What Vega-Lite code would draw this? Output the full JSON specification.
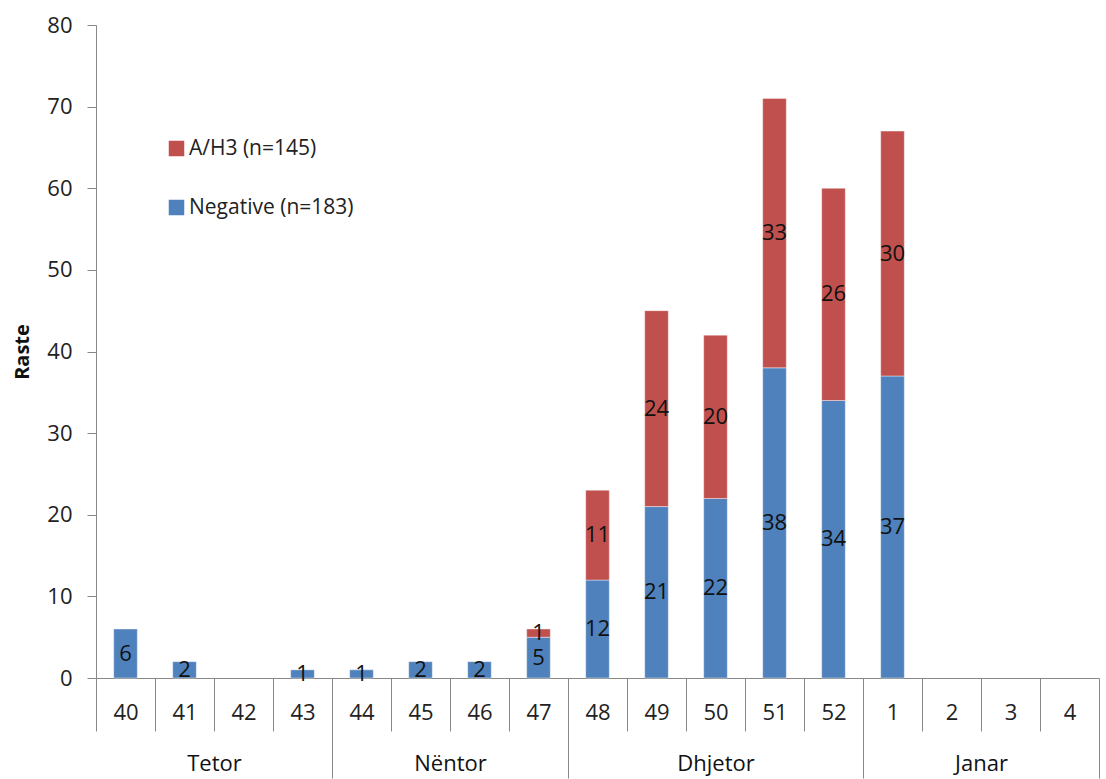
{
  "$schema": "https://vega.github.io/schema/vega-lite/v6.json",
  "padding": {"left": 12, "top": 14, "right": 0, "bottom": 0},
  "background": "white",
  "spacing": 0,
  "bounds": "flush",
  "config": {
    "font": "Open Sans",
    "view": {"stroke": null},
    "axis": {"labelFont": "Open Sans", "titleFont": "Open Sans", "labelColor": "#222", "titleColor": "#111", "domainColor": "#888", "tickColor": "#888", "grid": false},
    "axisX": {"labelAngle": 0, "labelFontSize": 22, "titleFontSize": 22, "titleFontWeight": "normal", "titleY": 85, "titleBaseline": "middle", "tickBand": "extent"}
  },
  "data": {
    "values": [
      {"week": 40, "month": "Tetor", "type": "Negative (n=183)", "count": 6},
      {"week": 41, "month": "Tetor", "type": "Negative (n=183)", "count": 2},
      {"week": 43, "month": "Tetor", "type": "Negative (n=183)", "count": 1},
      {"week": 44, "month": "Nëntor", "type": "Negative (n=183)", "count": 1},
      {"week": 45, "month": "Nëntor", "type": "Negative (n=183)", "count": 2},
      {"week": 46, "month": "Nëntor", "type": "Negative (n=183)", "count": 2},
      {"week": 47, "month": "Nëntor", "type": "Negative (n=183)", "count": 5},
      {"week": 47, "month": "Nëntor", "type": "A/H3 (n=145)", "count": 1},
      {"week": 48, "month": "Dhjetor", "type": "Negative (n=183)", "count": 12},
      {"week": 48, "month": "Dhjetor", "type": "A/H3 (n=145)", "count": 11},
      {"week": 49, "month": "Dhjetor", "type": "Negative (n=183)", "count": 21},
      {"week": 49, "month": "Dhjetor", "type": "A/H3 (n=145)", "count": 24},
      {"week": 50, "month": "Dhjetor", "type": "Negative (n=183)", "count": 22},
      {"week": 50, "month": "Dhjetor", "type": "A/H3 (n=145)", "count": 20},
      {"week": 51, "month": "Dhjetor", "type": "Negative (n=183)", "count": 38},
      {"week": 51, "month": "Dhjetor", "type": "A/H3 (n=145)", "count": 33},
      {"week": 52, "month": "Dhjetor", "type": "Negative (n=183)", "count": 34},
      {"week": 52, "month": "Dhjetor", "type": "A/H3 (n=145)", "count": 26},
      {"week": 1, "month": "Janar", "type": "Negative (n=183)", "count": 37},
      {"week": 1, "month": "Janar", "type": "A/H3 (n=145)", "count": 30}
    ]
  },
  "resolve": {"scale": {"x": "independent", "y": "shared"}},
  "hconcat": [
    {
      "width": 236, "height": 653,
      "transform": [{"filter": {"field": "month", "equal": "Tetor"}}],
      "layer": [
        {
          "mark": {"type": "bar", "width": {"band": 0.4}, "stroke": "#ffffff", "strokeOpacity": 0.4, "strokeWidth": 1},
          "encoding": {
            "x": {"field": "week", "type": "ordinal", "scale": {"domain": [40, 41, 42, 43], "paddingInner": 0, "paddingOuter": 0},
              "axis": {"title": "Tetor", "tickSize": {"condition": {"test": "datum.index == 1", "value": 100}, "value": 53}, "labelPadding": {"condition": {"test": "datum.index == 1", "value": -76}, "value": -29}}},
            "y": {"field": "count", "type": "quantitative", "stack": "zero", "scale": {"domain": [0, 80]},
              "axis": {"title": "Raste", "titleFontSize": 20, "titleFontWeight": "bold", "titlePadding": 14, "labelFontSize": 22, "tickSize": 9, "labelPadding": 15, "values": [0, 10, 20, 30, 40, 50, 60, 70, 80]}},
            "color": {"field": "type", "type": "nominal", "scale": {"domain": ["A/H3 (n=145)", "Negative (n=183)"], "range": ["#C0504D", "#4F81BD"]},
              "legend": {"title": null, "orient": "none", "legendX": 70, "legendY": 113, "labelFontSize": 21, "labelFont": "Open Sans", "labelColor": "#222", "labelLimit": 400, "symbolType": "square", "symbolSize": 240, "symbolStrokeWidth": 0, "rowPadding": 37, "labelOffset": 2}},
            "order": {"field": "type", "sort": "descending"}
          }
        },
        {
          "transform": [
            {"stack": "count", "groupby": ["week"], "sort": [{"field": "type", "order": "descending"}], "as": ["y0", "y1"]},
            {"fold": ["y0", "y1"], "as": ["edge", "pos"]},
            {"aggregate": [{"op": "mean", "field": "pos", "as": "mid"}], "groupby": ["week", "type", "count"]}
          ],
          "mark": {"type": "text", "fontSize": 22, "color": "#111", "baseline": "middle"},
          "encoding": {
            "x": {"field": "week", "type": "ordinal"},
            "y": {"field": "mid", "type": "quantitative"},
            "text": {"field": "count", "type": "quantitative"}
          }
        }
      ]
    },
    {
      "width": 236, "height": 653,
      "transform": [{"filter": {"field": "month", "equal": "Nëntor"}}],
      "layer": [
        {
          "mark": {"type": "bar", "width": {"band": 0.4}, "stroke": "#ffffff", "strokeOpacity": 0.4, "strokeWidth": 1},
          "encoding": {
            "x": {"field": "week", "type": "ordinal", "scale": {"domain": [44, 45, 46, 47], "paddingInner": 0, "paddingOuter": 0},
              "axis": {"title": "Nëntor", "tickSize": {"condition": {"test": "datum.index == 1", "value": 100}, "value": 53}, "labelPadding": {"condition": {"test": "datum.index == 1", "value": -76}, "value": -29}}},
            "y": {"field": "count", "type": "quantitative", "stack": "zero", "scale": {"domain": [0, 80]}, "axis": null},
            "color": {"field": "type", "type": "nominal", "scale": {"domain": ["A/H3 (n=145)", "Negative (n=183)"], "range": ["#C0504D", "#4F81BD"]}, "legend": null},
            "order": {"field": "type", "sort": "descending"}
          }
        },
        {
          "transform": [
            {"stack": "count", "groupby": ["week"], "sort": [{"field": "type", "order": "descending"}], "as": ["y0", "y1"]},
            {"fold": ["y0", "y1"], "as": ["edge", "pos"]},
            {"aggregate": [{"op": "mean", "field": "pos", "as": "mid"}], "groupby": ["week", "type", "count"]}
          ],
          "mark": {"type": "text", "fontSize": 22, "color": "#111", "baseline": "middle"},
          "encoding": {
            "x": {"field": "week", "type": "ordinal"},
            "y": {"field": "mid", "type": "quantitative"},
            "text": {"field": "count", "type": "quantitative"}
          }
        }
      ]
    },
    {
      "width": 295, "height": 653,
      "transform": [{"filter": {"field": "month", "equal": "Dhjetor"}}],
      "layer": [
        {
          "mark": {"type": "bar", "width": {"band": 0.4}, "stroke": "#ffffff", "strokeOpacity": 0.4, "strokeWidth": 1},
          "encoding": {
            "x": {"field": "week", "type": "ordinal", "scale": {"domain": [48, 49, 50, 51, 52], "paddingInner": 0, "paddingOuter": 0},
              "axis": {"title": "Dhjetor", "tickSize": {"condition": {"test": "datum.index == 1", "value": 100}, "value": 53}, "labelPadding": {"condition": {"test": "datum.index == 1", "value": -76}, "value": -29}}},
            "y": {"field": "count", "type": "quantitative", "stack": "zero", "scale": {"domain": [0, 80]}, "axis": null},
            "color": {"field": "type", "type": "nominal", "scale": {"domain": ["A/H3 (n=145)", "Negative (n=183)"], "range": ["#C0504D", "#4F81BD"]}, "legend": null},
            "order": {"field": "type", "sort": "descending"}
          }
        },
        {
          "transform": [
            {"stack": "count", "groupby": ["week"], "sort": [{"field": "type", "order": "descending"}], "as": ["y0", "y1"]},
            {"fold": ["y0", "y1"], "as": ["edge", "pos"]},
            {"aggregate": [{"op": "mean", "field": "pos", "as": "mid"}], "groupby": ["week", "type", "count"]}
          ],
          "mark": {"type": "text", "fontSize": 22, "color": "#111", "baseline": "middle"},
          "encoding": {
            "x": {"field": "week", "type": "ordinal"},
            "y": {"field": "mid", "type": "quantitative"},
            "text": {"field": "count", "type": "quantitative"}
          }
        }
      ]
    },
    {
      "width": 236, "height": 653,
      "transform": [{"filter": {"field": "month", "equal": "Janar"}}],
      "layer": [
        {
          "mark": {"type": "bar", "width": {"band": 0.4}, "stroke": "#ffffff", "strokeOpacity": 0.4, "strokeWidth": 1},
          "encoding": {
            "x": {"field": "week", "type": "ordinal", "scale": {"domain": [1, 2, 3, 4], "paddingInner": 0, "paddingOuter": 0},
              "axis": {"title": "Janar", "tickSize": {"condition": {"test": "datum.index == 1", "value": 100}, "value": 53}, "labelPadding": {"condition": {"test": "datum.index == 1", "value": -76}, "value": -29}}},
            "y": {"field": "count", "type": "quantitative", "stack": "zero", "scale": {"domain": [0, 80]}, "axis": null},
            "color": {"field": "type", "type": "nominal", "scale": {"domain": ["A/H3 (n=145)", "Negative (n=183)"], "range": ["#C0504D", "#4F81BD"]}, "legend": null},
            "order": {"field": "type", "sort": "descending"}
          }
        },
        {
          "transform": [
            {"stack": "count", "groupby": ["week"], "sort": [{"field": "type", "order": "descending"}], "as": ["y0", "y1"]},
            {"fold": ["y0", "y1"], "as": ["edge", "pos"]},
            {"aggregate": [{"op": "mean", "field": "pos", "as": "mid"}], "groupby": ["week", "type", "count"]}
          ],
          "mark": {"type": "text", "fontSize": 22, "color": "#111", "baseline": "middle"},
          "encoding": {
            "x": {"field": "week", "type": "ordinal"},
            "y": {"field": "mid", "type": "quantitative"},
            "text": {"field": "count", "type": "quantitative"}
          }
        }
      ]
    }
  ]
}
